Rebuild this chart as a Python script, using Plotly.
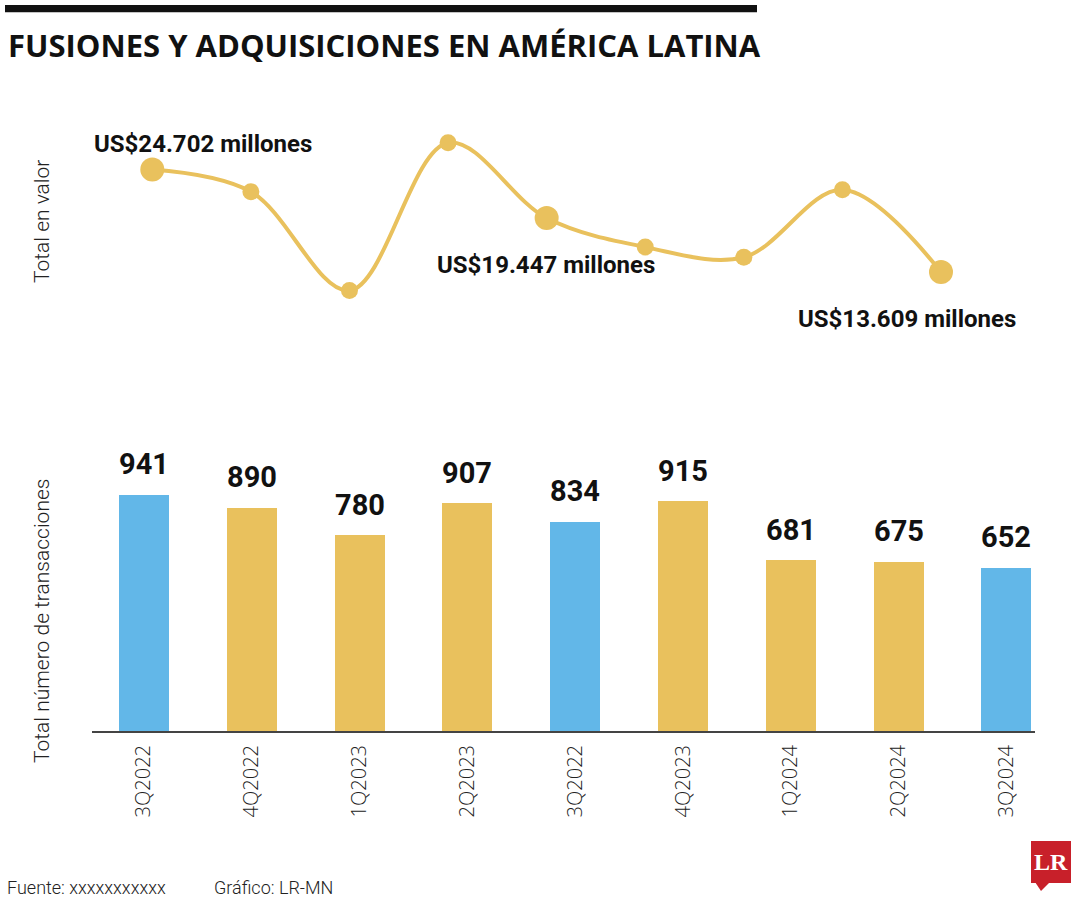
import plotly.graph_objects as go

# ---------------- data ----------------
quarters = ["3Q2022", "4Q2022", "1Q2023", "2Q2023", "3Q2022", "4Q2023", "1Q2024", "2Q2024", "3Q2024"]
transacciones = [941, 890, 780, 907, 834, 915, 681, 675, 652]
bar_colors = ["#62B7E8", "#E9C15D", "#E9C15D", "#E9C15D", "#62B7E8", "#E9C15D", "#E9C15D", "#E9C15D", "#62B7E8"]

valor = [24702, 22300, 11600, 27600, 19447, 16300, 15200, 22500, 13609]  # US$ millones (estimated where unlabeled)
marker_sizes = [24, 17, 17, 17, 24, 17, 17, 17, 24]
labeled_points = [0, 4, 8]
labels_text = ["US$24.702 millones", "US$19.447 millones", "US$13.609 millones"]

GOLD = "#E9C15D"
BOLD = "Roboto, Inter, sans-serif"
LIGHT = "Roboto, sans-serif"
W, H = 1080, 900

fig = go.Figure()

# line chart (top)
fig.add_trace(go.Scatter(
    x=list(range(len(valor))), y=valor, xaxis="x2", yaxis="y2",
    mode="lines+markers",
    line=dict(color=GOLD, width=4, shape="spline", smoothing=1.0),
    marker=dict(color=GOLD, size=marker_sizes, opacity=1, line=dict(width=0)),
    cliponaxis=False, hoverinfo="skip", showlegend=False,
))

# bar chart (bottom)
fig.add_trace(go.Bar(
    x=list(range(len(transacciones))), y=transacciones,
    marker=dict(color=bar_colors, line=dict(width=0)),
    width=0.464, showlegend=False, hoverinfo="skip",
))

annotations = []
# bar value labels
for i, v in enumerate(transacciones):
    annotations.append(dict(
        x=i, y=v, xref="x", yref="y", text=f"<b>{v}</b>", showarrow=False,
        yanchor="bottom", yshift=11,
        font=dict(family=BOLD, size=29, color="#111"),
    ))
# line value labels
shifts = [(51, 25), (-1, -47), (-34, -47)]
for idx, txt, (dx, dy) in zip(labeled_points, labels_text, shifts):
    annotations.append(dict(
        x=idx, y=valor[idx], xref="x2", yref="y2", text=f"<b>{txt}</b>", showarrow=False,
        xshift=dx, yshift=dy, xanchor="center", yanchor="middle",
        font=dict(family=BOLD, size=24, color="#111"),
    ))
# title
annotations.append(dict(
    x=6 / W, y=1 - 45 / H, xref="paper", yref="paper", xanchor="left", yanchor="middle",
    text="<b>FUSIONES Y ADQUISICIONES EN AMÉRICA LATINA</b>", showarrow=False,
    font=dict(family="Open Sans, sans-serif", size=31, color="#111"),
))
# axis titles
annotations.append(dict(
    x=42 / W, y=1 - 222 / H, xref="paper", yref="paper", xanchor="center", yanchor="middle",
    text="Total en valor", textangle=-90, showarrow=False,
    font=dict(family=LIGHT, size=21, color="#222", weight=300),
))
annotations.append(dict(
    x=42 / W, y=1 - 621 / H, xref="paper", yref="paper", xanchor="center", yanchor="middle",
    text="Total número de transacciones", textangle=-90, showarrow=False,
    font=dict(family=LIGHT, size=21, color="#222", weight=300),
))
# footer
annotations.append(dict(
    x=5 / W, y=1 - 887 / H, xref="paper", yref="paper", xanchor="left", yanchor="middle",
    text="Fuente: xxxxxxxxxxx", showarrow=False,
    font=dict(family=LIGHT, size=18, color="#222", weight=300),
))
annotations.append(dict(
    x=212 / W, y=1 - 887 / H, xref="paper", yref="paper", xanchor="left", yanchor="middle",
    text="Gráfico: LR-MN", showarrow=False,
    font=dict(family=LIGHT, size=18, color="#222", weight=300),
))
# logo text
annotations.append(dict(
    x=1051 / W, y=1 - 862 / H, xref="paper", yref="paper", xanchor="center", yanchor="middle",
    text="<b>LR</b>", showarrow=False,
    font=dict(family="Liberation Serif, DejaVu Serif, serif", size=24, color="white"),
))

shapes = [
    # top black rule
    dict(type="rect", xref="paper", yref="paper", x0=5 / W, x1=757 / W, y0=1 - 12.3 / H, y1=1 - 5 / H,
         fillcolor="#111", line=dict(width=0)),
    # logo box
    dict(type="rect", xref="paper", yref="paper", x0=1031 / W, x1=1071 / W, y0=1 - 883 / H, y1=1 - 841 / H,
         fillcolor="#C8202A", line=dict(width=0)),
    dict(type="path", xref="paper", yref="paper",
         path=f"M {1035/W} {1-882/H} L {1050/W} {1-882/H} L {1041/W} {1-891/H} Z",
         fillcolor="#C8202A", line=dict(width=0)),
]

fig.update_layout(
    width=W, height=H, margin=dict(l=0, r=0, t=0, b=0),
    paper_bgcolor="white", plot_bgcolor="white",
    annotations=annotations, shapes=shapes,
    xaxis=dict(domain=[92 / W, 1035 / W], range=[-0.482, 8.265], tickmode="array",
               tickvals=list(range(len(quarters))), ticktext=quarters, tickangle=-90,
               showline=True, linecolor="#444", linewidth=2, showgrid=False, zeroline=False,
               ticks="", ticklabelstandoff=4,
               tickfont=dict(family="Open Sans, sans-serif", size=20, color="#222", weight=300),
               anchor="y", fixedrange=True),
    yaxis=dict(domain=[(H - 731) / H, (H - 479.5) / H], range=[0, 1000], visible=False,
               anchor="x", fixedrange=True),
    xaxis2=dict(domain=[93.15 / W, 1000.15 / W], range=[-0.6, 8.6], visible=False,
                anchor="y2", fixedrange=True),
    yaxis2=dict(domain=[(H - 305.3) / H, (H - 120.5) / H], range=[10000, 30000], visible=False,
                anchor="x2", fixedrange=True),
    bargap=0,
)

fig.write_html("out.html")
